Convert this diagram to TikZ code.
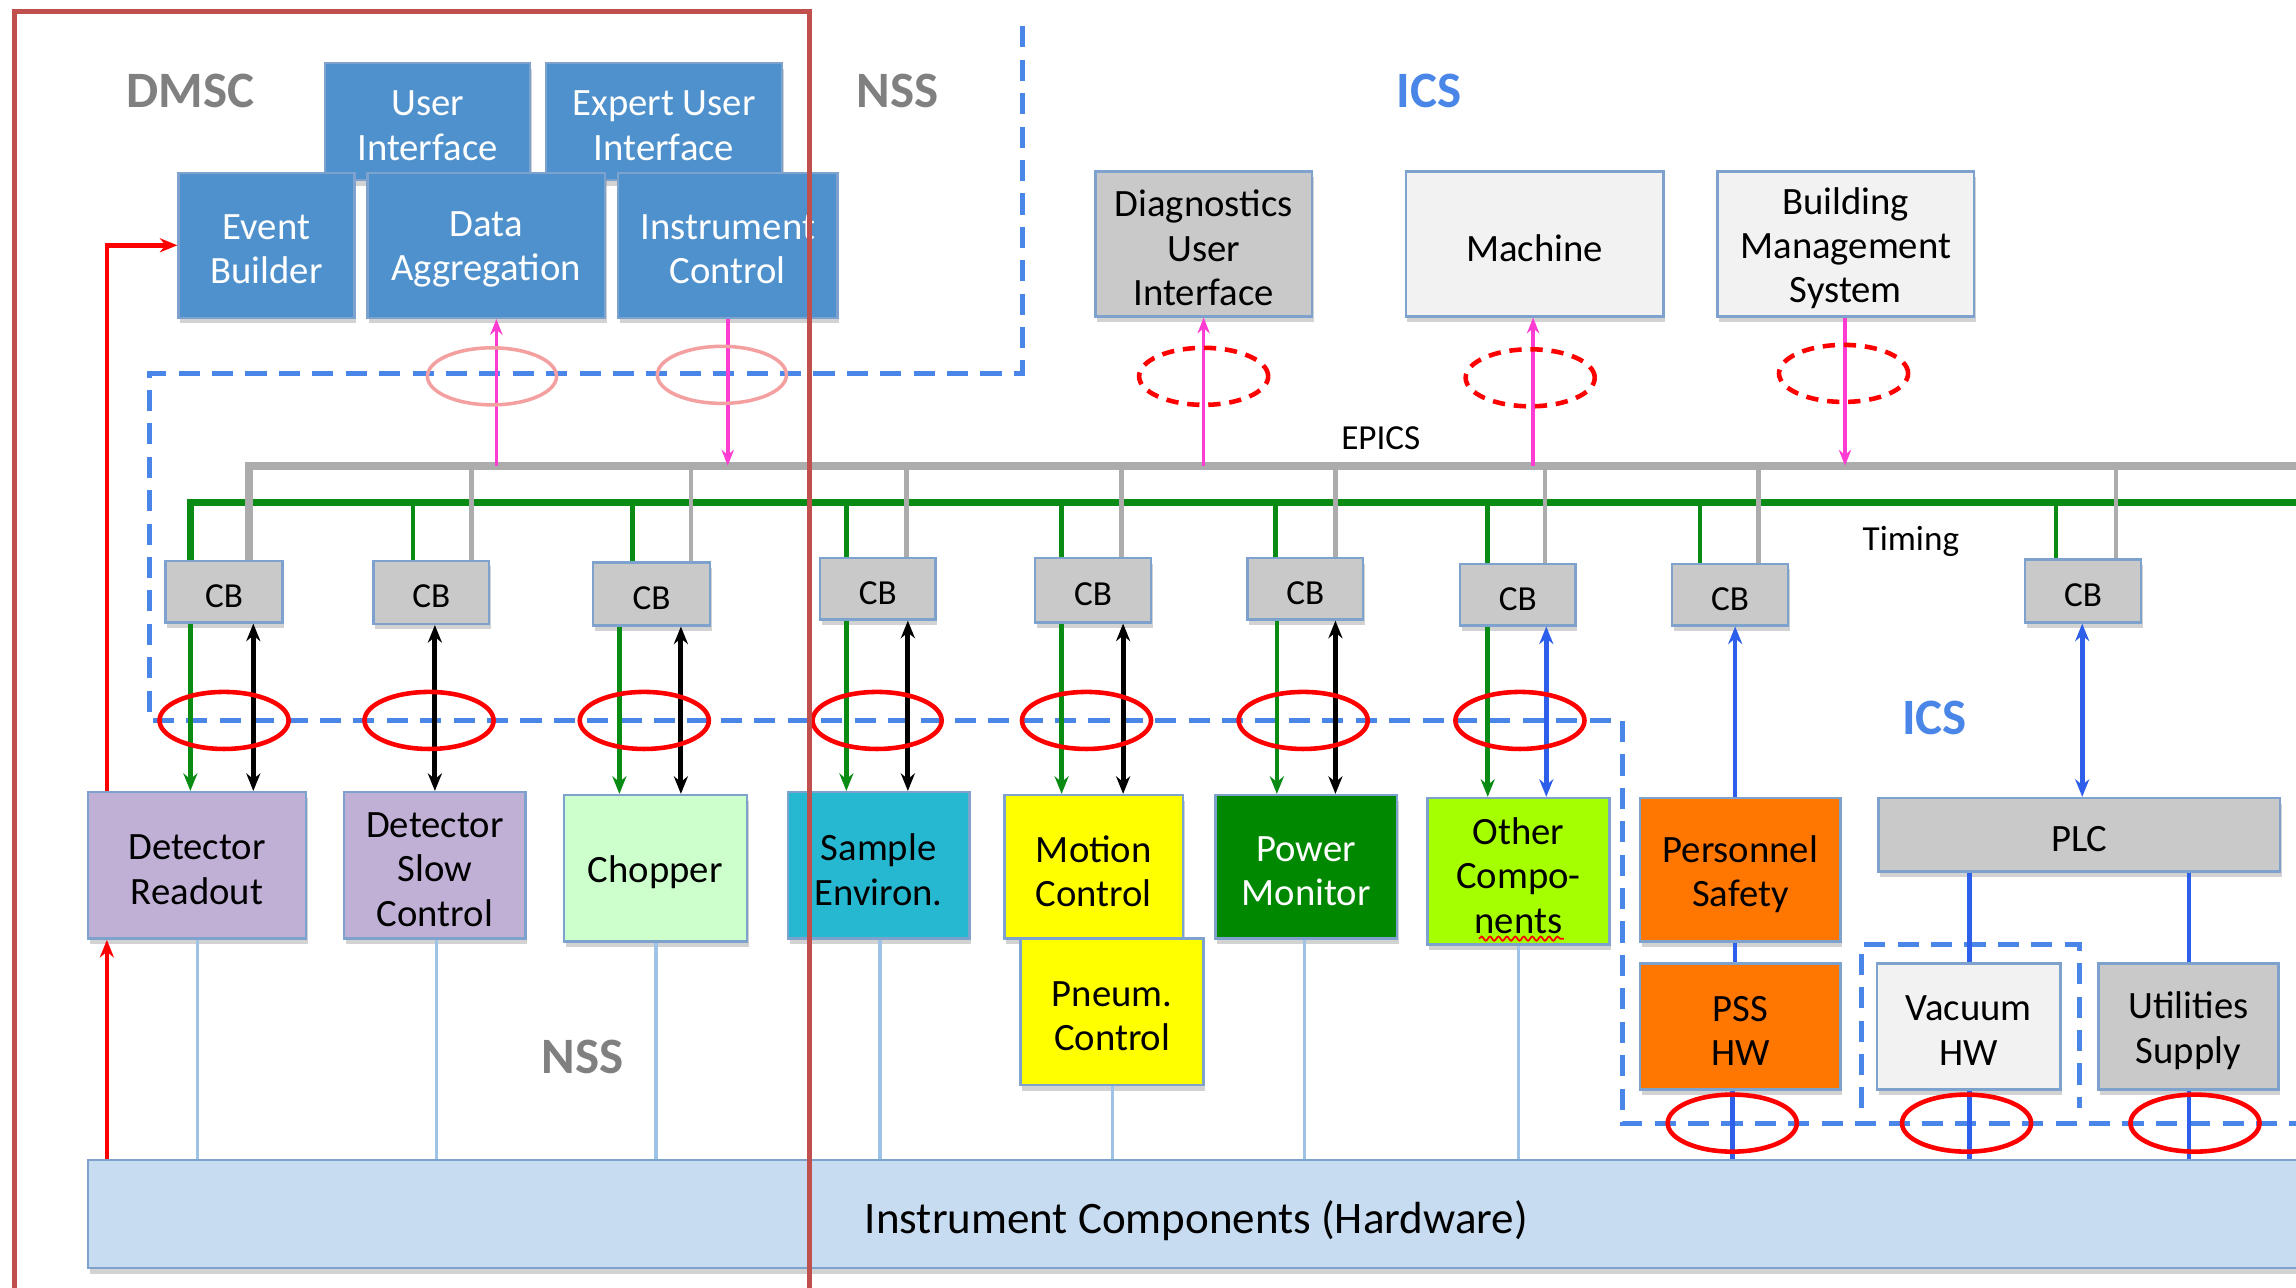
\documentclass[tikz,border=0pt]{standalone}
\usepackage{fontspec}
\setmainfont{Carlito}
\usetikzlibrary{arrows.meta,shadows,decorations.pathmorphing}
\definecolor{dmscblue}{RGB}{79,145,204}
\definecolor{boxborder}{RGB}{125,162,206}
\definecolor{cbgray}{RGB}{201,201,201}
\definecolor{paleg}{RGB}{242,242,242}
\definecolor{lav}{RGB}{192,176,214}
\definecolor{mint}{RGB}{204,255,204}
\definecolor{steal}{RGB}{38,184,208}
\definecolor{ylw}{RGB}{255,255,0}
\definecolor{pwrgreen}{RGB}{0,136,0}
\definecolor{limeg}{RGB}{166,255,0}
\definecolor{orng}{RGB}{255,118,0}
\definecolor{hwblue}{RGB}{200,220,241}
\definecolor{busgray}{RGB}{172,172,172}
\definecolor{timgreen}{RGB}{10,140,20}
\definecolor{dashblue}{RGB}{74,134,232}
\definecolor{mag}{RGB}{255,60,210}
\definecolor{framered}{RGB}{192,80,77}
\definecolor{labgray}{RGB}{128,128,128}
\definecolor{thinblue}{RGB}{157,195,230}
\definecolor{plcblue}{RGB}{45,95,235}
\definecolor{pinkell}{RGB}{245,160,160}
\newcommand\bx[8]{\node[#6,minimum width={(#4-#2)*0.01464cm},minimum height={(#5-#3)*0.01464cm}] (#1) at ({(#2+#4)/2},{(#3+#5)/2}) {};
  \node[boxtext,#7] (#1t) at ([yshift=-1.2pt]#1.center) {#8};}
\newcommand\elli[3]{\draw[#3] (#1,#2) ellipse [x radius=0.645cm, y radius=0.285cm];}
\begin{document}
\begin{tikzpicture}[x=0.01464cm,y=-0.01464cm,
  >={Stealth[length=5pt,width=4pt]},
  box/.style={draw=boxborder,line width=0.7pt,inner sep=0pt,
    drop shadow={shadow xshift=0.5pt,shadow yshift=-1.6pt,opacity=0.35}},
  boxtext/.style={inner sep=0pt,align=center,font=\fontsize{11}{12.6}\selectfont},
  cbtext/.style={font=\fontsize{10}{12}\selectfont},
  bluebox/.style={box,fill=dmscblue},
  cbbox/.style={box,fill=cbgray},
  biglab/.style={font=\fontsize{14.5}{16}\selectfont\bfseries,inner sep=0pt},
  smlab/.style={font=\fontsize{10}{12}\selectfont,inner sep=0pt},
  dashb/.style={dashblue,line width=1.4pt,dash pattern=on 6pt off 3.5pt},
  tbus/.style={timgreen,line width=1.9pt},
  tline/.style={timgreen,line width=1.3pt},
  ebus/.style={busgray,line width=2.2pt},
  eline/.style={busgray,line width=1.3pt},
  garrow/.style={timgreen,line width=1.3pt,->},
  karrow/.style={black,line width=1.4pt,<->},
  barrow/.style={plcblue,line width=1.3pt},
  thin/.style={thinblue,line width=0.9pt},
  magarrow/.style={mag,line width=1pt,-{Stealth[length=4.5pt,width=3.5pt]}},
  redarrow/.style={red,line width=1.3pt,-{Stealth[length=5pt,width=4pt]}},
  redell/.style={red,line width=1.3pt},
  reddash/.style={red,line width=1.3pt,dash pattern=on 3.5pt off 2.5pt},
  pinkel/.style={pinkell,line width=1pt}]
\useasboundingbox (0,0) rectangle (1568,879);
\clip (0,0) rectangle (1568,879);
\fill[white] (0,0) rectangle (1568,879);

% boundary dashed lines
\draw[dashb] (698,18) -- (698,255) -- (102,255) -- (102,492) -- (1108,492) -- (1108,767) -- (1580,767);
\draw[dashb] (1271,757) -- (1271,645) -- (1420,645) -- (1420,757);

% DMSC boxes
\bx{ui}{222}{43}{362}{123}{bluebox}{text=white}{User\\Interface}
\bx{eui}{373}{43}{534}{123}{bluebox}{text=white}{Expert User\\Interface}
\bx{eb}{122}{118}{242}{217}{bluebox}{text=white}{Event\\Builder}
\bx{da}{251}{118}{413}{217}{bluebox}{text=white}{Data\\Aggregation}
\bx{ic}{422}{118}{572}{217}{bluebox}{text=white}{Instrument\\Control}

% ICS top boxes
\bx{dui}{748}{117}{896}{216}{box,fill=cbgray}{}{Diagnostics\\User\\Interface}
\bx{mach}{960}{117}{1136}{216}{box,fill=paleg}{}{Machine}
\bx{bms}{1173}{117}{1348}{216}{box,fill=paleg}{}{Building\\Management\\System}

% CBs
\bx{cb1}{113}{383}{193}{425}{cbbox}{cbtext}{CB}
\bx{cb2}{255}{383}{334}{426}{cbbox}{cbtext}{CB}
\bx{cb3}{405}{384}{485}{427}{cbbox}{cbtext}{CB}
\bx{cb4}{560}{381}{639}{423}{cbbox}{cbtext}{CB}
\bx{cb5}{707}{381}{786}{425}{cbbox}{cbtext}{CB}
\bx{cb6}{852}{381}{931}{423}{cbbox}{cbtext}{CB}
\bx{cb7}{997}{385}{1076}{427}{cbbox}{cbtext}{CB}
\bx{cb8}{1142}{385}{1221}{427}{cbbox}{cbtext}{CB}
\bx{cb9}{1383}{382}{1462}{425}{cbbox}{cbtext}{CB}

% buses
\coordinate (tmR) at (1580,343);
\coordinate (epR) at (1580,318);
\coordinate (g1) at (130,343);
\coordinate (e1) at (170,318);
\draw[tbus] (g1 |- cb1.north) -- (g1) -- (tmR);
\foreach \i/\gx in {2/282,3/432,4/578,5/725,6/871,7/1016,8/1161,9/1404}{
  \coordinate (G) at (\gx,343);
  \draw[tline] (G) -- (G |- cb\i.north);
}
\draw[ebus] (e1 |- cb1.north) -- (e1) -- (epR);
\foreach \i/\ex in {2/322,3/472,4/619,5/766,6/912,7/1055,8/1201,9/1445}{
  \coordinate (E) at (\ex,318);
  \draw[eline] (E) -- (E |- cb\i.north);
}

% devices
\bx{hw}{60}{792}{1574}{866}{box,fill=hwblue}{font=\fontsize{12.8}{15}\selectfont,yshift=-0.8pt}{Instrument Components (Hardware)}
\bx{dr}{60}{541}{209}{641}{box,fill=lav}{}{Detector\\Readout}
\bx{dsc}{235}{541}{359}{641}{box,fill=lav}{}{Detector\\Slow\\Control}
\bx{chop}{385}{543}{510}{643}{box,fill=mint}{}{Chopper}
\bx{se}{538}{541}{662}{641}{box,fill=steal}{}{Sample\\Environ.}
\bx{mc}{686}{543}{808}{641}{box,fill=ylw}{}{Motion\\Control}
\bx{pc}{697}{641}{822}{741}{box,fill=ylw}{}{Pneum.\\Control}
\bx{pm}{830}{543}{954}{641}{box,fill=pwrgreen}{text=white}{Power\\Monitor}
\bx{oc}{975}{545}{1099}{645}{box,fill=limeg}{}{Other\\Compo-\\nents}
\bx{ps}{1120}{545}{1257}{643}{box,fill=orng}{}{Personnel\\Safety}
\bx{pss}{1120}{658}{1257}{744}{box,fill=orng}{}{PSS\\HW}
\bx{plc}{1283}{545}{1557}{595}{box,fill=cbgray}{}{PLC}
\bx{vac}{1282}{658}{1407}{744}{box,fill=paleg}{}{Vacuum\\HW}
\bx{util}{1433}{658}{1556}{744}{box,fill=cbgray}{}{Utilities\\Supply}

\draw[red,line width=0.5pt,decorate,decoration={snake,amplitude=0.6pt,segment length=2.4pt}] (1010,641) -- (1068,641);

% CB -> device arrows
\foreach \c/\d/\x in {cb1/dr/130,cb3/chop/423,cb4/se/578,cb5/mc/725,cb6/pm/872,cb7/oc/1016}{
  \coordinate (X) at (\x,0);
  \draw[garrow] (\c.south -| X) -- (\d.north -| X);
}
\foreach \c/\d/\x in {cb1/dr/173,cb2/dsc/297,cb3/chop/465,cb4/se/620,cb5/mc/767,cb6/pm/912}{
  \coordinate (X) at (\x,0);
  \draw[karrow] (\c.south -| X) -- (\d.north -| X);
}
\coordinate (X) at (1056,0);
\draw[barrow,<->] (cb7.south -| X) -- (oc.north -| X);
\coordinate (X) at (1422,0);
\draw[barrow,<->] (cb9.south -| X) -- (plc.north -| X);
\coordinate (X) at (1185,0);
\draw[barrow,->] (ps.north -| X) -- (cb8.south -| X);
\draw[barrow] (ps.south -| X) -- (pss.north -| X);
\coordinate (X) at (1183,0);
\draw[barrow] (pss.south -| X) -- (hw.north -| X);
\coordinate (X) at (1345,0);
\draw[barrow] (plc.south -| X) -- (vac.north -| X);
\draw[barrow] (vac.south -| X) -- (hw.north -| X);
\coordinate (X) at (1495,0);
\draw[barrow] (plc.south -| X) -- (util.north -| X);
\draw[barrow] (util.south -| X) -- (hw.north -| X);

% thin lines to hardware
\foreach \d/\x in {dr/135,dsc/298,chop/448,se/601,pc/760,pm/891,oc/1037}{
  \coordinate (X) at (\x,0);
  \draw[thin] (\d.south -| X) -- (hw.north -| X);
}

% red arrows
\coordinate (R) at (73,0);
\draw[redarrow] (hw.north -| R) -- (dr.south -| R);
\draw[redarrow] (dr.north -| R) |- (eb.west);

% magenta EPICS links
\coordinate (M1) at (339,318);
\draw[magarrow] (M1) -- (M1 |- da.south);
\coordinate (M2) at (497,318);
\draw[magarrow] (M2 |- ic.south) -- (M2);
\coordinate (M3) at (822,318);
\draw[magarrow] (M3) -- (M3 |- dui.south);
\coordinate (M4) at (1047,318);
\draw[magarrow] (M4) -- (M4 |- mach.south);
\coordinate (M5) at (1260,318);
\draw[magarrow] (M5 |- bms.south) -- (M5);

% ellipses
\elli{336}{257}{pinkel}
\elli{493}{256}{pinkel}
\elli{822}{257}{reddash}
\elli{1045}{258}{reddash}
\elli{1259}{255}{reddash}
\foreach \ex in {153,293,440,599,742,890,1038}{\elli{\ex}{492}{redell}}
\foreach \ex in {1183,1343,1499}{\elli{\ex}{767}{redell}}

% labels
\node[biglab,text=labgray] (dmsc) at (130,62) {DMSC};
\node[biglab,text=labgray] (nss1) at (613,62) {NSS};
\node[biglab,text=dashblue] (ics1) at (976,62) {ICS};
\node[biglab,text=labgray] (nss2) at (398,722) {NSS};
\node[biglab,text=dashblue] (ics2) at (1321,490) {ICS};
\node[smlab] (epics) at (943,299) {EPICS};
\node[smlab] (timing) at (1305,370) {Timing};

% red frame
\draw[framered,line width=1.4pt] (10,890) -- (10,8) -- (553,8) -- (553,890);
\end{tikzpicture}
\end{document}
